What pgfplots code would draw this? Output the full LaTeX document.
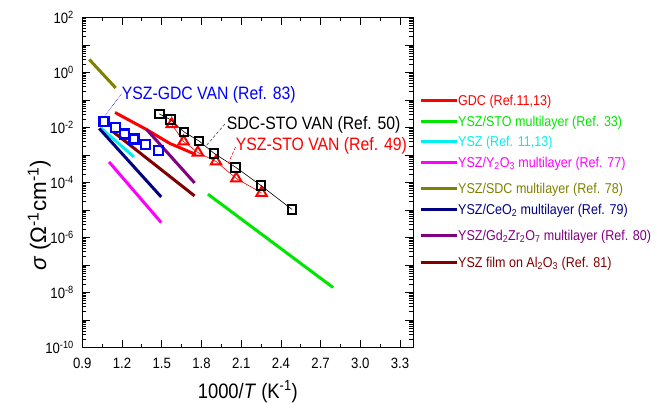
\documentclass[border=0pt]{standalone}
\usepackage{fontspec}
\setmainfont{Liberation Sans}[FakeStretch=0.88]
\newfontfamily\plainfont{Liberation Sans}
\usepackage{pgfplots}
\pgfplotsset{compat=1.18}
\definecolor{cgreen}{RGB}{0,230,0}
\definecolor{ccyan}{RGB}{0,240,240}
\definecolor{cmagenta}{RGB}{255,0,255}
\definecolor{colive}{RGB}{128,128,0}
\definecolor{cnavy}{RGB}{0,0,128}
\definecolor{cpurple}{RGB}{128,0,128}
\definecolor{cmaroon}{RGB}{128,0,0}
\definecolor{cred}{RGB}{255,0,0}
\definecolor{cblue}{RGB}{0,0,255}
\newcommand{\tl}[1]{10\textsuperscript{#1}}
\begin{document}
\begin{tikzpicture}
\begin{axis}[
  at={(0,0)}, anchor=south west,
  scale only axis, width=331bp, height=330bp,
  clip mode=individual,
  xmin=0.9, xmax=3.4, ymode=log, ymin=1e-10, ymax=1e2,
  xtick={0.9,1.2,1.5,1.8,2.1,2.4,2.7,3.0,3.3},
  xticklabels={0.9,1.2,1.5,1.8,2.1,2.4,2.7,3.0,3.3},
  minor x tick num=1,
  ytickten={-10,...,2},
  yticklabels={\tl{-10},,\tl{-8},,\tl{-6},,\tl{-4},,\tl{-2},,\tl{0},,\tl{2}},
  minor ytick={2e-10,3e-10,4e-10,5e-10,6e-10,7e-10,8e-10,9e-10,
    2e-9,3e-9,4e-9,5e-9,6e-9,7e-9,8e-9,9e-9,
    2e-8,3e-8,4e-8,5e-8,6e-8,7e-8,8e-8,9e-8,
    2e-7,3e-7,4e-7,5e-7,6e-7,7e-7,8e-7,9e-7,
    2e-6,3e-6,4e-6,5e-6,6e-6,7e-6,8e-6,9e-6,
    2e-5,3e-5,4e-5,5e-5,6e-5,7e-5,8e-5,9e-5,
    2e-4,3e-4,4e-4,5e-4,6e-4,7e-4,8e-4,9e-4,
    2e-3,3e-3,4e-3,5e-3,6e-3,7e-3,8e-3,9e-3,
    2e-2,3e-2,4e-2,5e-2,6e-2,7e-2,8e-2,9e-2,
    0.2,0.3,0.4,0.5,0.6,0.7,0.8,0.9,
    2,3,4,5,6,7,8,9,
    20,30,40,50,60,70,80,90},
  tick align=inside,
  major tick length=8bp, minor tick length=4bp,
  every tick/.style={black, line width=0.8bp},
  axis line style={line width=1bp},
  tick label style={font=\fontsize{15}{17}\selectfont},
  xticklabel style={yshift=-7bp},
  yticklabel style={xshift=-5bp},
  legend style={draw=none, fill=none, at={(axis description cs:1.0172,0.767)}, anchor=north west,
    inner sep=0pt, row sep=6bp, column sep=0bp,
    cells={anchor=base west},
    nodes={inner sep=0bp, text height=11bp, text depth=4bp},
    font=\fontsize{14.3}{16}\selectfont},
  legend image code/.code={\draw[#1] (0bp,5.3bp) -- (36bp,5.3bp);},
]
% legend lines
\addplot[cred, line width=3bp] coordinates {(1.147,0.0351) (1.381,0.00867) (1.562,0.00262) (1.758,0.00104)};
\addlegendentry{\textcolor{cred}{GDC (Ref.11,13)}}
\addplot[cgreen, line width=3bp] coordinates {(1.849,3.76e-5) (2.794,1.52e-8)};
\addlegendentry[text depth=3bp]{\textcolor{cgreen}{YSZ/STO multilayer (Ref. 33)}}
\addplot[ccyan, line width=3bp] coordinates {(1.039,0.00966) (1.290,8.53e-4)};
\addlegendentry{\textcolor{ccyan}{YSZ (Ref. 11,13)}}
\addplot[cmagenta, line width=3bp] coordinates {(1.102,5.61e-4) (1.496,3.51e-6)};
\addlegendentry[text depth=9bp]{\textcolor{cmagenta}{YSZ/Y\textsubscript{2}O\textsubscript{3} multilayer (Ref. 77)}}
\addplot[colive, line width=3bp] coordinates {(0.953,2.97) (1.152,0.275)};
\addlegendentry{\textcolor{colive}{YSZ/SDC multilayer (Ref. 78)}}
\addplot[cnavy, line width=3bp] coordinates {(1.028,0.0092) (1.496,2.99e-5)};
\addlegendentry[text depth=9bp]{\textcolor{cnavy}{YSZ/CeO\textsubscript{2} multilayer (Ref. 79)}}
\addplot[cpurple, line width=3bp] coordinates {(1.386,0.00845) (1.748,9.66e-5)};
\addlegendentry[text depth=10bp]{\textcolor{cpurple}{YSZ/Gd\textsubscript{2}Zr\textsubscript{2}O\textsubscript{7} multilayer (Ref. 80)}}
\addplot[cmaroon, line width=3bp] coordinates {(1.134,0.00692) (1.748,3.26e-5)};
\addlegendentry{\textcolor{cmaroon}{YSZ film on Al\textsubscript{2}O\textsubscript{3} (Ref. 81)}}
% YSZ-STO VAN
\addplot[cred, line width=0.6bp, mark=triangle, mark size=6bp, mark options={line width=2bp, fill=none}, forget plot]
  coordinates {(1.575,0.01318) (1.665,0.0031) (1.773,0.00123) (1.910,5.81e-4) (2.063,1.40e-4) (2.254,4.19e-5)};
% SDC-STO VAN
\addplot[black, line width=0.6bp, mark=square, mark size=4.3bp, mark options={line width=2bp, fill=none}, forget plot]
  coordinates {(1.481,0.0313) (1.564,0.01954) (1.668,0.00692) (1.781,0.00326) (1.894,0.00116) (2.058,3.60e-4) (2.249,7.78e-5) (2.485,1.04e-5)};
% YSZ-GDC VAN
\addplot[cblue, only marks, mark=square, mark size=4.5bp, mark options={line width=2.2bp, fill=none}, forget plot]
  coordinates {(1.064,0.01694) (1.149,0.0100) (1.220,0.00585) (1.290,0.00385) (1.378,0.00241) (1.477,0.00146)};
% leaders
\addplot[cblue, densely dotted, line width=0.6bp, forget plot] coordinates {(1.07,0.02576) (1.197,0.1722)};
\addplot[black!70, densely dashed, line width=0.6bp, forget plot] coordinates {(1.839,0.00227) (1.985,0.01469)};
\addplot[cred, densely dashed, line width=0.6bp, forget plot] coordinates {(2.002,4.91e-4) (2.058,0.00197)};
\node[cblue, anchor=west, inner sep=0pt, font=\fontsize{18}{20}\selectfont] at (axis cs:1.197,0.1585) {YSZ-GDC VAN (Ref. 83)};
\node[black, anchor=west, inner sep=0pt, font=\fontsize{18}{20}\selectfont] at (axis cs:1.990,0.01285) {SDC-STO VAN (Ref. 50)};
\node[cred, anchor=west, inner sep=0pt, font=\fontsize{18}{20}\selectfont] at (axis cs:2.058,0.00214) {YSZ-STO VAN (Ref. 49)};
\node[font=\fontsize{21}{24}\selectfont] at (rel axis cs:0.5,-0.134) {1000/\textit{T} (K\textsuperscript{-1})};
\node[rotate=90, font=\plainfont\fontsize{22.5}{25}\selectfont] at (rel axis cs:-0.13,0.40) {\textit{σ} (Ω\textsuperscript{-1}cm\textsuperscript{-1})};
\end{axis}
\pgfresetboundingbox
\path[use as bounding box] (-82.3bp,-56.5bp) rectangle (572.7bp,347.5bp);
\end{tikzpicture}
\end{document}
